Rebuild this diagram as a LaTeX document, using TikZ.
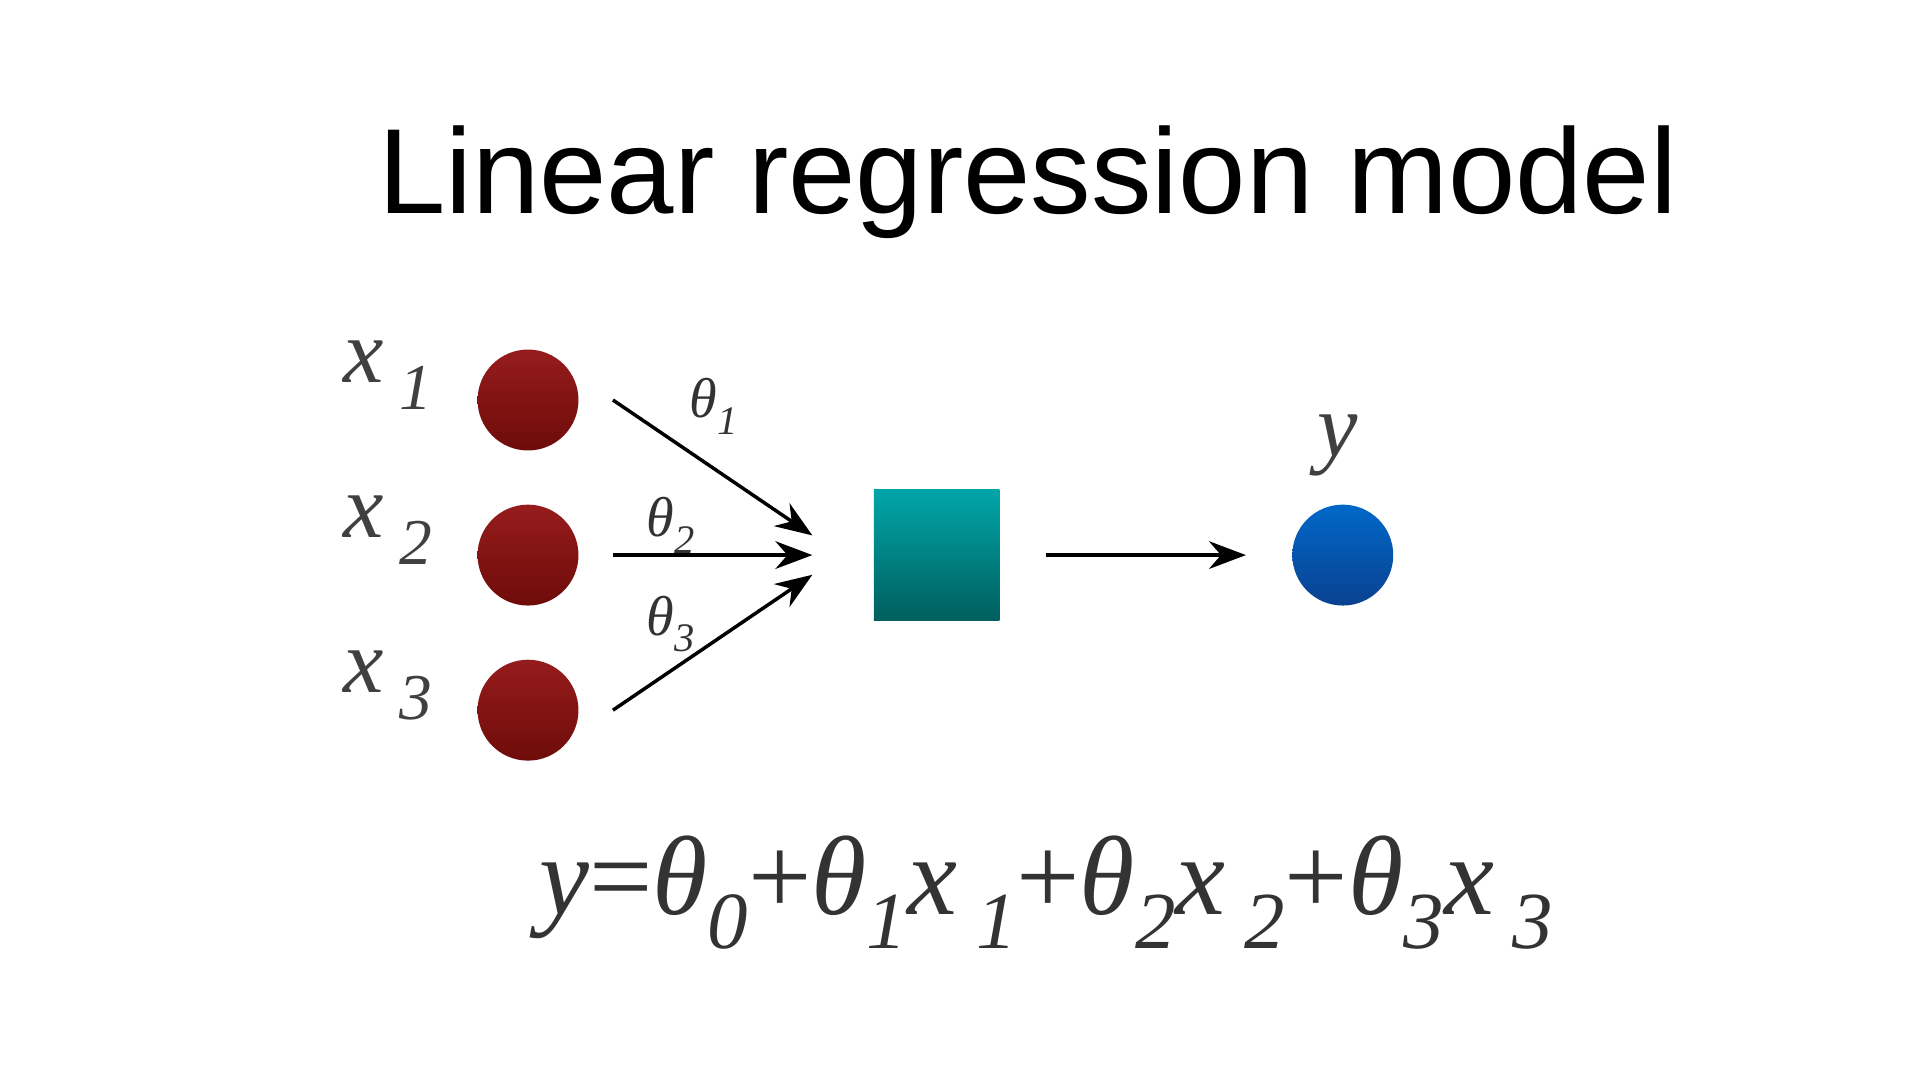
\documentclass[tikz,border=0pt]{standalone}
\usepackage{fontspec}
\setmainfont{Liberation Serif}
\newfontfamily\titlefont{Liberation Sans}
\usetikzlibrary{arrows.meta}
\definecolor{redtop}{RGB}{150,28,28}
\definecolor{redbot}{RGB}{110,12,10}
\definecolor{tealtop}{RGB}{0,165,168}
\definecolor{tealbot}{RGB}{0,95,95}
\definecolor{bluetop}{RGB}{0,104,200}
\definecolor{bluebot}{RGB}{10,65,145}
\newcommand{\lowidx}[1]{\raisebox{-0.3em}{\scalebox{0.72}{#1}}}
\begin{document}
\begin{tikzpicture}[x=1cm,y=-1cm,
    input/.style={circle,minimum size=0.82cm,inner sep=0pt,top color=redtop,bottom color=redbot},
    output/.style={circle,minimum size=0.82cm,inner sep=0pt,top color=bluetop,bottom color=bluebot},
    sumbox/.style={minimum width=1.02cm,minimum height=1.06cm,inner sep=0pt,top color=tealtop,bottom color=tealbot},
    var/.style={font=\fontsize{21}{24}\selectfont\itshape,text=black!75},
    weight/.style={font=\fontsize{13}{15}\selectfont\itshape,text=black!80},
    link/.style={thick,-{Stealth[length=3mm]}}]
  \useasboundingbox (0,0) rectangle (15.6,8.775);
  % title
  \node (title) at (8.35,1.48) {\titlefont\fontsize{28}{32}\selectfont Linear regression model};
  % inputs
  \foreach \i/\yy in {1/3.25,2/4.51,3/5.77} {
    \node[input] (in\i) at (4.29,\yy) {};
    \node[var] (lab\i) at (3.15,\yy-0.2) {x\,\lowidx{\i}};
    \coordinate (s\i) at (4.98,\yy);
  }
  \coordinate (t1) at (6.6,4.35);
  \coordinate (t2) at (6.6,4.51);
  \coordinate (t3) at (6.6,4.67);
  \node[sumbox] (sum) at (7.61,4.51) {};
  \node[output] (out) at (10.91,4.51) {};
  \node[var] (ylab) at (10.87,3.62) {y};
  % weights
  \foreach \i in {1,2,3} \draw[link] (s\i) -- (t\i);
  \node[weight] (w1) at (5.8,3.3) {θ\lowidx{1}};
  \node[weight] (w2) at (5.45,4.27) {θ\lowidx{2}};
  \node[weight] (w3) at (5.45,5.07) {θ\lowidx{3}};
  \draw[link] (sum.east) ++(0.37,0) coordinate (o1) (o1) -- ([xshift=-0.37cm]out.west);
  % formula
  \node[text=black!80] (formula) at (8.5,7.25) {\fontsize{26}{30}\selectfont\itshape
    y\upshape=\itshape θ\lowidx{0}\upshape+\itshape θ\lowidx{1}x\,\lowidx{1}\upshape+\itshape θ\lowidx{2}x\,\lowidx{2}\upshape+\itshape θ\lowidx{3}x\,\lowidx{3}};
\end{tikzpicture}
\end{document}
